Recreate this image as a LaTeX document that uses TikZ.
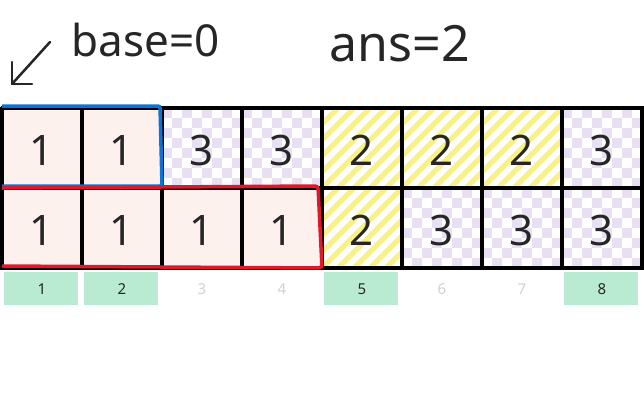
\documentclass[tikz,border=0pt]{standalone}
\usepackage{fontspec}
\setmainfont{Noto Sans}
\newfontfamily\hand{Noto Sans}
\begin{document}
\begin{tikzpicture}[x=1pt,y=-1pt,
  num/.style={font=\fontsize{42}{42}\selectfont,text=black!85},
  lab/.style={font=\bfseries\fontsize{15}{15}\selectfont},
  hw/.style={font=\hand\fontsize{44}{44}\selectfont,text=black!85}]
\useasboundingbox (0,0) rectangle (644,400);
\definecolor{pinkc}{HTML}{FDF1EE}
\definecolor{lav}{HTML}{E8E0F2}
\definecolor{yel}{HTML}{F7F08C}
\definecolor{grn}{HTML}{B9EBD3}
\foreach \row/\vals in {0/{1,1,3,3,2,2,2,3},1/{1,1,1,1,2,3,3,3}}{
  \foreach \v [count=\i from 0] in \vals {
    \pgfmathsetmacro{\xa}{2+80*\i}
    \pgfmathsetmacro{\ya}{108+80*\row}
    \ifnum\v=1
      \fill[pinkc] (\xa,\ya) rectangle ++(80,80);
    \fi
    \ifnum\v=3
      \fill[white] (\xa,\ya) rectangle ++(80,80);
      \foreach \a in {0,...,7}{\foreach \b in {0,...,7}{
        \pgfmathtruncatemacro{\p}{mod(\a+\b,2)}
        \ifnum\p=0 \fill[lav] (\xa+10*\a,\ya+10*\b) rectangle ++(10,10); \fi}}
    \fi
    \ifnum\v=2
      \begin{scope}
      \clip (\xa,\ya) rectangle ++(80,80);
      \foreach \k in {-80,-64,...,160}
        \draw[yel,line width=5pt] (\xa+\k,\ya+80) -- ++(80,-80);
      \end{scope}
    \fi
    \node[num] (c\row\i) at (\xa+40,\ya+42) {\v};
  }
}
\foreach \i in {0,...,8}{\draw[line width=3.5pt] (2+80*\i,106.5) -- (2+80*\i,269.5);}
\foreach \j in {0,1,2}{\draw[line width=3.5pt] (0.5,108+80*\j) -- (643.5,108+80*\j);}
% labels
\foreach \i/\g in {1/1,2/1,3/0,4/0,5/1,6/0,7/0,8/1}{
  \pgfmathsetmacro{\xa}{2+80*(\i-1)}
  \ifnum\g=1
    \fill[grn] (\xa+2,272) rectangle ++(74,33);
    \node[lab,text=black!85] (l\i) at (\xa+40,289) {\i};
  \else
    \node[lab,text=black!18] (l\i) at (\xa+40,289) {\i};
  \fi
}
% highlight boxes
\draw[draw={rgb,255:red,10;green,116;blue,214},line width=3.5pt,rounded corners=2pt] (2,106) -- (160,106) -- (162,186) -- (2,186);
\draw[draw={rgb,255:red,224;green,24;blue,44},line width=3.5pt,rounded corners=3pt] (2,188) -- (318,186) -- (322,268) -- (2,266);
% handwriting
\node[hw,anchor=west] (base) at (68,40) {base=0};
\node[hw,anchor=west,font=\hand\fontsize{50}{50}\selectfont] (ans) at (326,44) {ans=2};
\coordinate (tip) at (12,84);
\draw[line width=2.5pt,black!85,line cap=round] (50,42) -- (tip);
\draw[line width=2.5pt,black!85,line cap=round,line join=round] (12,62) -- (tip) -- (32,84);
\end{tikzpicture}
\end{document}
